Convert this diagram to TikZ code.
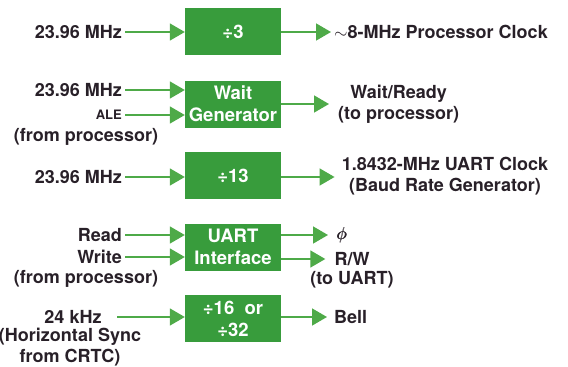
\documentclass[tikz,border=0pt]{standalone}
\usepackage{amsmath}
\usepackage{fontspec}
\setmainfont{TeX Gyre Heros}
\usetikzlibrary{positioning,arrows.meta}
\definecolor{boxgreen}{RGB}{56,156,60}
\definecolor{linegreen}{RGB}{78,170,72}
\definecolor{inkdark}{RGB}{40,32,40}
\tikzset{div box/.style={rectangle,fill=boxgreen,minimum width=96pt,minimum height=47pt,inner sep=0pt,
		text=white,align=center,font=\fontsize{18.5}{22}\selectfont\bfseries},
	sig label/.style={text=inkdark,align=center,inner sep=3pt,font=\fontsize{18}{21.5}\selectfont\bfseries},
	sig/.style={draw=linegreen,line width=1.6pt,-{Triangle[length=15pt,width=17pt]}},}

\begin{document}
\begin{tikzpicture}[x=1pt,y=-1pt]
			\useasboundingbox (0,0) rectangle (568,367);

			% divide by 3
			\node[sig label, anchor=east] (clkA) at (125,32) {23.96 MHz};
			\node[div box] (div3) at (233,31.5) {÷3};
			\node[sig label, anchor=west] (cpuclk) at (331,32) {$\sim$8-MHz Processor Clock};

			% wait generator
			\node[sig label, anchor=east] (clkB) at (125,90) {23.96 MHz};
			\node[sig label, anchor=east, font=\fontsize{13}{15}\selectfont\bfseries] (ale) at (125,115) {ALE};
			\node[sig label] (fromcpuA) at (86,137) {(from processor)};
			\node[div box] (waitgen) at (233,104) {Wait\\Generator};
			\node[sig label, anchor=west] (waitrdy) at (335,104.5) {Wait/Ready\\(to processor)};

			% divide by 13
			\node[sig label, anchor=east] (clkC) at (125,177) {23.96 MHz};
			\node[div box] (div13) at (233,175.5) {÷13};
			\node[sig label] (uartclk) at (445,176) {1.8432-MHz UART Clock\\(Baud Rate Generator)};

			% uart interface
			\node[sig label, anchor=east] (rd) at (125,235) {Read};
			\node[sig label, anchor=east] (wr) at (125,257) {Write};
			\node[sig label] (fromcpuB) at (86,279) {(from processor)};
			\node[div box] (uartif) at (233,247) {UART\\Interface};
			\node[sig label, anchor=west] (phase) at (334,235) {$\pmb{\phi}$};
			\node[sig label] (rw) at (352,259) {R/W};
			\node[sig label] (touart) at (352,280) {(to UART)};

			% bell divider
			\node[sig label] (hsync) at (73,317) {24 kHz};
			\node[sig label, inner sep=1pt] (crtc) at (70,347) {(Horizontal Sync\\from CRTC)};
			\node[div box] (div16) at (233,318.5) {÷16~~or\\÷32};
			\node[sig label, anchor=west] (bell) at (331,317) {Bell};

			\path
				(clkA.east) edge[sig] (clkA.east -| div3.west)
				(div3.east |- cpuclk.west) edge[sig] (cpuclk.west)
				(clkB.east) edge[sig] (clkB.east -| waitgen.west)
				(ale.east) edge[sig] (ale.east -| waitgen.west)
				(waitgen.east) edge[sig] ([xshift=-6pt]waitgen.east -| waitrdy.west)
				(clkC.east) edge[sig] (clkC.east -| div13.west)
				(div13.east |- clkC.east) edge[sig] ([xshift=-4pt]uartclk.west |- clkC.east)
				(rd.east) edge[sig] (rd.east -| uartif.west)
				(wr.east) edge[sig] (wr.east -| uartif.west)
				(uartif.east |- phase.west) edge[sig] ([xshift=-6pt]phase.west)
				(uartif.east |- rw.west) edge[sig] ([xshift=-6pt]rw.west)
				([xshift=44pt]hsync.center) edge[sig] (hsync.center -| div16.west)
				(div16.east |- bell.west) edge[sig] ([xshift=-4pt]bell.west);
		\end{tikzpicture}
\end{document}
